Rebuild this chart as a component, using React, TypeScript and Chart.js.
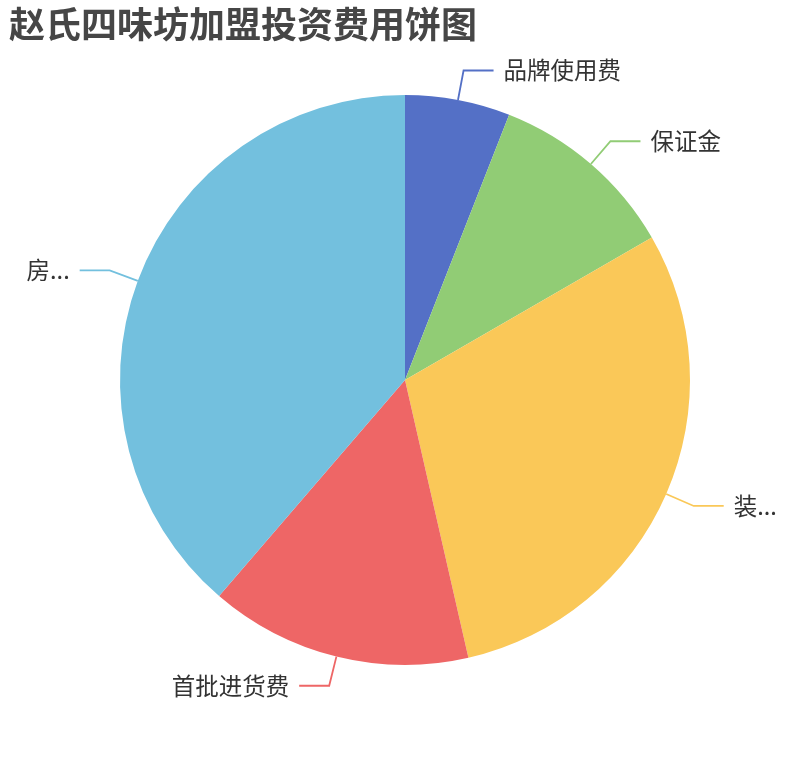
import React, { useEffect, useRef } from "react";
import { Chart, registerables } from "chart.js";

Chart.register(...registerables);

const titleText = "赵氏四味坊加盟投资费用饼图";
const categories = ["品牌使用费", "保证金", "装...", "首批进货费", "房..."];
const amounts = [2, 3.6, 10, 5, 13];
const sliceColors = ["#5470c6", "#91cc75", "#fac858", "#ee6666", "#73c0de"];

const FONT = '"Noto Sans CJK SC", "Noto Sans", sans-serif';

// outside labels with two-segment leader lines, plus the title
const pieLabels = {
  id: "pieLabels",
  afterDatasetsDraw(chart: any) {
    const ctx = chart.ctx;
    const meta = chart.getDatasetMeta(0);
    ctx.save();
    meta.data.forEach((arc: any, i: number) => {
      const { x, y, startAngle, endAngle, outerRadius } = arc.getProps(
        ["x", "y", "startAngle", "endAngle", "outerRadius"],
        true
      );
      const mid = (startAngle + endAngle) / 2;
      const cos = Math.cos(mid);
      const sin = Math.sin(mid);
      const p0x = x + cos * outerRadius;
      const p0y = y + sin * outerRadius;
      const p1x = x + cos * (outerRadius + 30);
      const p1y = y + sin * (outerRadius + 30);
      const right = cos >= 0;
      const p2x = p1x + (right ? 30 : -30);

      ctx.strokeStyle = sliceColors[i];
      ctx.lineWidth = 1.8;
      ctx.beginPath();
      ctx.moveTo(p0x, p0y);
      ctx.lineTo(p1x, p1y);
      ctx.lineTo(p2x, p1y);
      ctx.stroke();

      ctx.fillStyle = "#333";
      ctx.font = `23.5px ${FONT}`;
      ctx.textAlign = right ? "left" : "right";
      ctx.textBaseline = "middle";
      ctx.fillText(categories[i], p2x + (right ? 10 : -10), p1y);
    });

    ctx.fillStyle = "#464646";
    ctx.font = `bold 36px ${FONT}`;
    ctx.textAlign = "left";
    ctx.textBaseline = "middle";
    ctx.fillText(titleText, 9, 24);
    ctx.restore();
  },
};

const App: React.FC = () => {
  const chartRef = useRef<HTMLCanvasElement | null>(null);
  const chartInstance = useRef<Chart | null>(null);

  useEffect(() => {
    const ctx = chartRef.current?.getContext("2d");
    if (!ctx) return;
    if (chartInstance.current) chartInstance.current.destroy();

    chartInstance.current = new Chart(ctx, {
      type: "pie",
      data: {
        labels: categories,
        datasets: [
          {
            data: amounts,
            backgroundColor: sliceColors,
            borderWidth: 0,
          },
        ],
      },
      options: {
        responsive: false,
        animation: false,
        layout: { padding: { left: 120, right: 120, top: 95, bottom: 95 } },
        plugins: {
          legend: { display: false },
          tooltip: { enabled: false },
        },
      },
      plugins: [pieLabels],
    });

    return () => {
      if (chartInstance.current) {
        chartInstance.current.destroy();
        chartInstance.current = null;
      }
    };
  }, []);

  return (
    <div style={{ position: "fixed", left: 0, top: 0, width: 810, height: 760, background: "#fff" }}>
      <canvas ref={chartRef} width={810} height={760}></canvas>
    </div>
  );
};

export default App;
